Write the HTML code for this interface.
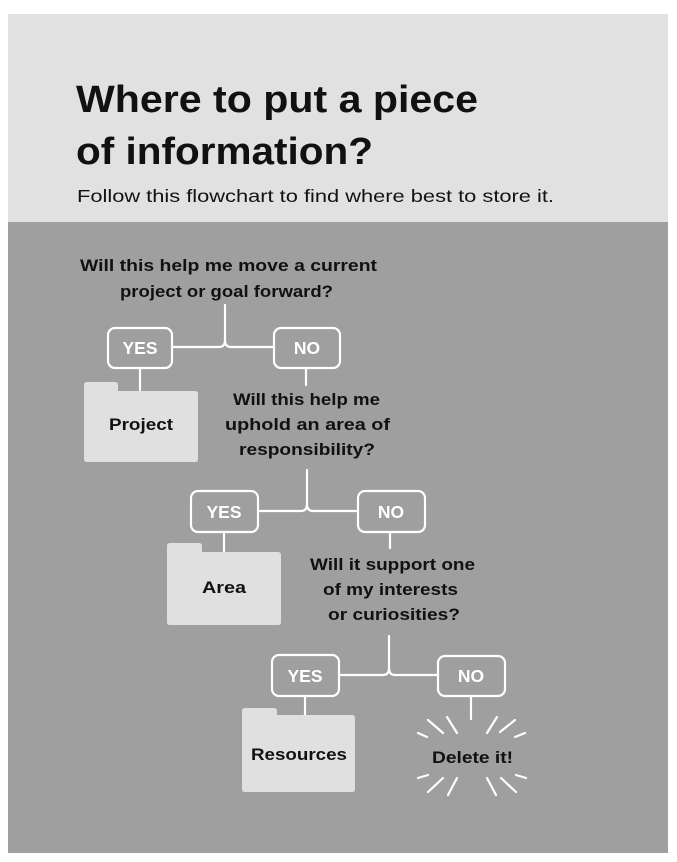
<!DOCTYPE html>
<html><head><style>
html,body{margin:0;padding:0;background:#fff;}
body{width:677px;height:862px;position:relative;overflow:hidden;font-family:"Liberation Sans",sans-serif;}
</style></head><body>
<svg width="677" height="862" viewBox="0 0 677 862" xmlns="http://www.w3.org/2000/svg" style="position:absolute;left:0;top:0">
<rect x="8" y="14" width="660" height="208" fill="#e1e1e1"/>
<rect x="8" y="222" width="660" height="631" fill="#9f9f9f"/>
<g font-family="Liberation Sans, sans-serif" font-weight="bold" fill="#111">
<text x="76" y="112" font-size="38" textLength="402" lengthAdjust="spacingAndGlyphs">Where to put a piece</text>
<text x="76" y="164" font-size="38" textLength="297" lengthAdjust="spacingAndGlyphs">of information?</text>
<text x="77" y="202" font-size="17.5" font-weight="normal" textLength="477" lengthAdjust="spacingAndGlyphs">Follow this flowchart to find where best to store it.</text>
<g font-size="17" lengthAdjust="spacingAndGlyphs">
<text x="80" y="271" textLength="297" lengthAdjust="spacingAndGlyphs">Will this help me move a current</text>
<text x="120" y="297" textLength="213" lengthAdjust="spacingAndGlyphs">project or goal forward?</text>
<text x="233" y="405" textLength="147" lengthAdjust="spacingAndGlyphs">Will this help me</text>
<text x="225" y="430" textLength="165" lengthAdjust="spacingAndGlyphs">uphold an area of</text>
<text x="239" y="455" textLength="136" lengthAdjust="spacingAndGlyphs">responsibility?</text>
<text x="310" y="570" textLength="165" lengthAdjust="spacingAndGlyphs">Will it support one</text>
<text x="323" y="595" textLength="135" lengthAdjust="spacingAndGlyphs">of my interests</text>
<text x="328" y="620" textLength="132" lengthAdjust="spacingAndGlyphs">or curiosities?</text>
<text x="432" y="763" textLength="81" lengthAdjust="spacingAndGlyphs">Delete it!</text>
</g>
</g>
<g fill="none" stroke="#fff" stroke-width="2.2" stroke-linecap="round">
<path d="M225 305 V340 Q225 347 219 347 H172 M225 340 Q225 347 231 347 H274"/>
<rect x="108" y="328" width="64" height="40" rx="7"/>
<rect x="274" y="328" width="66" height="40" rx="7"/>
<path d="M140 368 V390 M306 368 V385"/>
<path d="M307 470 V504 Q307 511 301 511 H258 M307 504 Q307 511 313 511 H358"/>
<rect x="191" y="491" width="67" height="41" rx="7"/>
<rect x="358" y="491" width="67" height="41" rx="7"/>
<path d="M224 532 V552 M390 532 V548"/>
<path d="M389 636 V668 Q389 675 383 675 H339 M389 668 Q389 675 395 675 H438"/>
<rect x="272" y="655" width="67" height="41" rx="7"/>
<rect x="438" y="656" width="67" height="40" rx="7"/>
<path d="M305 696 V715 M471 696 V719"/>
<path d="M428 720 L443 733 M447 717 L457 733 M418 733 L427 737 M487 733 L497 717 M500 732 L515 720 M515 737 L525 733 M418 778 L428 775 M428 792 L443 778 M448 795 L457 778 M526 778 L516 775 M516 792 L501 778 M496 795 L487 778"/>
</g>
<g fill="#e0e0e0">
<path d="M84 462 V385 Q84 382 87 382 H115 Q118 382 118 385 V391 H195 Q198 391 198 394 V459 Q198 462 195 462 H87 Q84 462 84 459 Z"/>
<path d="M167 625 V546 Q167 543 170 543 H199 Q202 543 202 546 V552 H278 Q281 552 281 555 V622 Q281 625 278 625 H170 Q167 625 167 622 Z"/>
<path d="M242 792 V711 Q242 708 245 708 H274 Q277 708 277 711 V715 H352 Q355 715 355 718 V789 Q355 792 352 792 H245 Q242 792 242 789 Z"/>
</g>
<g font-family="Liberation Sans, sans-serif" font-weight="bold" fill="#111" font-size="17">
<text x="109" y="430" textLength="64" lengthAdjust="spacingAndGlyphs">Project</text>
<text x="202" y="593" textLength="44" lengthAdjust="spacingAndGlyphs">Area</text>
<text x="251" y="760" textLength="96" lengthAdjust="spacingAndGlyphs">Resources</text>
</g>
<g font-family="Liberation Sans, sans-serif" font-weight="bold" fill="#fff" font-size="17.5" text-anchor="middle">
<text x="140" y="354">YES</text>
<text x="307" y="354">NO</text>
<text x="224" y="518">YES</text>
<text x="391" y="518">NO</text>
<text x="305" y="682">YES</text>
<text x="471" y="682">NO</text>
</g>
</svg>
</body></html>
